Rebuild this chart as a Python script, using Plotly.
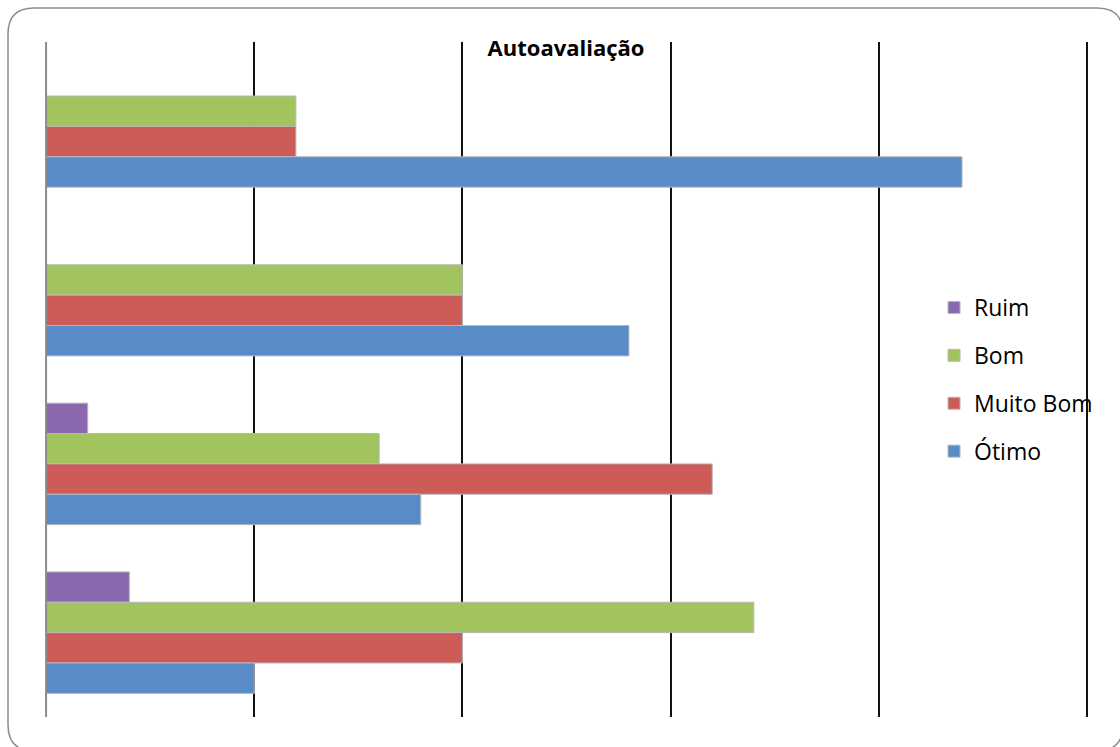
import plotly.graph_objects as go

# Survey items, listed top to bottom
categories = ["Q1", "Q2", "Q3", "Q4"]

# Number of answers per rating level for each item
ruim = [0, 0, 1, 2]
bom = [6, 10, 8, 17]
muito_bom = [6, 10, 16, 10]
otimo = [22, 14, 9, 5]

series_names = ["Ruim", "Bom", "Muito Bom", "Ótimo"]
series_values = [ruim, bom, muito_bom, otimo]
series_colors = ["#8A68AD", "#A2C45F", "#CD5B57", "#588BC8"]

grid_ticks = [5, 10, 15, 20, 25]
x_range = [-0.05, 25.05]

W, H = 1120, 747
L, R, T, B = 44, 31, 42, 30
pw, ph = W - L - R, H - T - B

FONT = "Open Sans"

fig = go.Figure()
for name, vals, color in zip(series_names, series_values, series_colors):
    fig.add_trace(go.Bar(
        y=categories, x=vals, name=name, orientation="h",
        legendgroup=name,
        marker=dict(color=color, line=dict(color="#B8B8B8", width=1)),
    ))


def px(xp):
    return (xp - L) / pw


def py(yp):
    return (H - B - yp) / ph


# rounded outer frame of the chart area
x0, x1, y0, y1, r = 8, 1123, 8, 751, 26
path = (
    f"M {px(x0 + r)},{py(y0)} L {px(x1 - r)},{py(y0)} "
    f"Q {px(x1)},{py(y0)} {px(x1)},{py(y0 + r)} "
    f"L {px(x1)},{py(y1 - r)} Q {px(x1)},{py(y1)} {px(x1 - r)},{py(y1)} "
    f"L {px(x0 + r)},{py(y1)} Q {px(x0)},{py(y1)} {px(x0)},{py(y1 - r)} "
    f"L {px(x0)},{py(y0 + r)} Q {px(x0)},{py(y0)} {px(x0 + r)},{py(y0)} Z"
)
fig.add_shape(type="path", path=path, xref="paper", yref="paper",
              line=dict(color="#8C8C8C", width=1.5), layer="below")

# vertical category axis at value 0
fig.add_shape(type="line", xref="x", yref="paper", x0=0, x1=0, y0=0, y1=1,
              line=dict(color="#8C8C8C", width=2), layer="above")

fig.update_layout(
    width=W, height=H,
    margin=dict(l=L, r=R, t=T, b=B),
    paper_bgcolor="white", plot_bgcolor="white",
    barmode="group", bargap=0.28, bargroupgap=0,
    font=dict(family=FONT, size=22, color="black"),
    title=dict(text="<b>Autoavaliação</b>", x=px(566), xref="paper",
               xanchor="center",
               y=1 - 48 / H, yref="container", yanchor="middle",
               font=dict(family=FONT, size=22, color="black")),
    xaxis=dict(range=x_range, tickvals=grid_ticks, showticklabels=False,
               showgrid=True, gridcolor="#111111", gridwidth=2,
               zeroline=False, showline=False, ticks=""),
    yaxis=dict(autorange="reversed", showticklabels=False, showgrid=False,
               showline=False, zeroline=False, ticks=""),
    legend=dict(x=px(934), y=py(286), xanchor="left", yanchor="top",
                traceorder="grouped", tracegroupgap=15,
                font=dict(family=FONT, size=23, color="black"),
                bgcolor="rgba(0,0,0,0)"),
    showlegend=True,
)

fig.write_html("out.html")
